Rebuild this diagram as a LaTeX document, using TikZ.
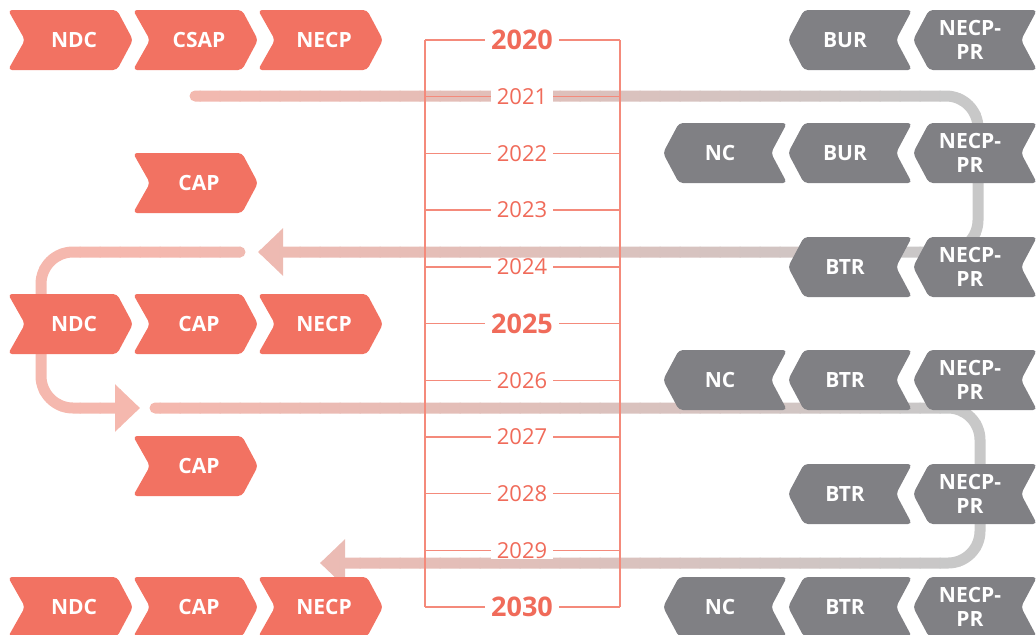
\documentclass[tikz,border=0pt]{standalone}
\usepackage{fontspec}
\setmainfont{Open Sans}
\usetikzlibrary{arrows.meta}

\definecolor{chred}{HTML}{F27262}
\definecolor{chgray}{HTML}{808084}
\definecolor{flowpink}{HTML}{F5B8AE}
\definecolor{flowgray}{HTML}{C8C8C8}
\definecolor{tline}{HTML}{F48A7B}
\definecolor{yrtext}{HTML}{F06B5A}

\tikzset{
  lbl/.style={text=white, font=\bfseries\fontsize{10.5}{12}\selectfont, align=center, inner sep=0pt},
  chevr/.pic={\fill[chred, rounded corners=2pt] (-66,-30) -- (43,-30) -- (59,0) -- (43,30) -- (-66,30) -- (-49,0) -- cycle;
    \node[lbl] (-t) {#1};},
  chevl/.pic={\fill[chgray, rounded corners=2pt] (-57,0) -- (-41,-30) -- (67,-30) -- (51,0) -- (67,30) -- (-41,30) -- cycle;
    \node[lbl] (-t) {#1};},
}

% the three loops behind the timeline
\newcommand\flowlines{%
  \draw[flow] (195,96) -- (978,96) -- (978,252) -- (258,252);
  \draw[flow] (240,252) -- (41,252) -- (41,408) -- (140,408);
  \draw[flow] (155,408) -- (980,408) -- (980,563) -- (320,563);
}

\begin{document}
\begin{tikzpicture}[x=0.5pt, y=-0.5pt,
  flow/.style={flowc, line width=5.5pt, line cap=round, rounded corners=16pt, -{Triangle[length=12.5pt,width=23pt]}},
  tl/.style={tline, line width=0.7pt},
  yr/.style={fill=white, text=yrtext, inner xsep=3pt, inner ysep=0.5pt, font=\fontsize{11}{12}\selectfont},
  yrbig/.style={yr, font=\bfseries\fontsize{13.5}{14}\selectfont}]
\useasboundingbox (0,0) rectangle (1036,634);

\foreach \i in {0,...,51}{
  \pgfmathtruncatemacro\p{min(100,max(0,(20*\i+10-150)/8))}
  \colorlet{flowc}{flowgray!\p!flowpink}
  \begin{scope}
    \clip (20*\i-0.5,0) rectangle (20*\i+20.5,634);
    \flowlines
  \end{scope}
}

% timeline
\draw[tl] (425,40) -- (425,607) (620,40) -- (620,607);
\foreach \k in {0,...,10}
  \draw[tl] (425,40+56.7*\k) -- (620,40+56.7*\k);
\foreach \k/\yr in {1/2021,2/2022,3/2023,4/2024,6/2026,7/2027,8/2028,9/2029}
  \node[yr] (y\yr) at (522,40+56.7*\k) {\yr};
\foreach \k/\yr in {0/2020,5/2025,10/2030}
  \node[yrbig] (y\yr) at (522,40+56.7*\k) {\yr};

% plans
\pic (ndc1) at (74,40) {chevr=NDC};
\pic (csap1) at (199,40) {chevr=CSAP};
\pic (necp1) at (324,40) {chevr=NECP};
\pic (cap2) at (199,183) {chevr=CAP};
\pic (ndc3) at (74,324) {chevr=NDC};
\pic (cap3) at (199,324) {chevr=CAP};
\pic (necp3) at (324,324) {chevr=NECP};
\pic (cap4) at (199,466) {chevr=CAP};
\pic (ndc5) at (74,607) {chevr=NDC};
\pic (cap5) at (199,607) {chevr=CAP};
\pic (necp5) at (324,607) {chevr=NECP};

% reports
\pic (bur1) at (845,40) {chevl=BUR};
\pic (pr1) at (970,40) {chevl={NECP-\\PR}};
\pic (nc2) at (720,153) {chevl=NC};
\pic (bur2) at (845,153) {chevl=BUR};
\pic (pr2) at (970,153) {chevl={NECP-\\PR}};
\pic (btr3) at (845,267) {chevl=BTR};
\pic (pr3) at (970,267) {chevl={NECP-\\PR}};
\pic (nc4) at (720,380) {chevl=NC};
\pic (btr4) at (845,380) {chevl=BTR};
\pic (pr4) at (970,380) {chevl={NECP-\\PR}};
\pic (btr5) at (845,494) {chevl=BTR};
\pic (pr5) at (970,494) {chevl={NECP-\\PR}};
\pic (nc6) at (720,607) {chevl=NC};
\pic (btr6) at (845,607) {chevl=BTR};
\pic (pr6) at (970,607) {chevl={NECP-\\PR}};
\end{tikzpicture}
\end{document}
